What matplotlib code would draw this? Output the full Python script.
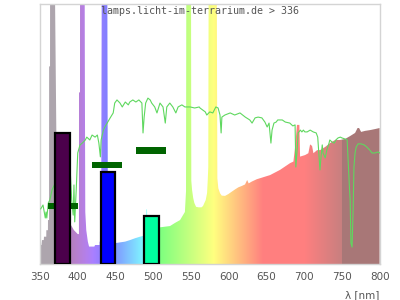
import numpy as np
import matplotlib
matplotlib.use("Agg")
import matplotlib.pyplot as plt
from matplotlib.patches import Polygon

# ---------------- data ----------------
title = "lamps.licht-im-terrarium.de > 336"
x_ticks = [350, 400, 450, 500, 550, 600, 650, 700, 750, 800]

# lamp emission spectrum (relative, axis top = 100; lines exceed the top)
spec_nm = [350, 352, 352.6, 355, 355.3, 358.3, 358.4, 360.5, 360.6, 362, 362.1, 363.3, 363.4,
           369, 372, 375, 380, 385, 390, 391, 395, 400, 401.6, 401.7, 403, 403.1, 409, 409.5,
           410, 411.3, 413.4, 415, 422, 423, 428.9, 429, 431, 432, 439, 440, 449, 462.7, 469.3,
           475.9, 482.5, 486.5, 490.5, 491, 491.8, 492.3, 508, 509, 522.3, 528.9, 535.6, 539.5,
           542, 543.5, 544, 550, 550.5, 551.5, 553, 554.5, 556.8, 560, 564, 566, 569.6, 571.4,
           572.3, 573, 573.6, 584, 585, 586.3, 588.6, 590.8, 595.2, 599.6, 604, 608.5, 612.9,
           617.3, 621.7, 624.5, 626.5, 630.6, 637.2, 643.9, 648.3, 654.9, 668.1, 681.4, 685.8,
           688, 690.5, 693.7, 694.6, 701.3, 705.6, 707.9, 710.5, 712.3, 717.2, 721.1, 727.8,
           734.4, 741, 747.6, 754.3, 760.9, 767.5, 770.8, 772.8, 775.5, 780.8, 787.4, 794, 800]
spec_val = [7.3, 7.3, 9.2, 9.2, 10.5, 10.5, 13, 13, 16.9, 16.9, 76, 76, 130,
            130, 40, 25, 18, 16, 16, 15, 13, 11.5, 11.5, 66, 66, 130, 130, 66,
            20, 13, 8.6, 6.7, 6.7, 7.3, 7.3, 8.6, 8.6, 130, 130, 10, 8, 8.6, 9.2,
            9.9, 10.5, 10.8, 11, 21, 21, 11.5, 14, 14.1, 14.6, 15.8, 16.9, 18.8,
            20, 28, 130, 130, 32, 28.5, 25.4, 23.5, 22, 21.8, 21.8, 22.3, 24.6, 27.3,
            32.3, 37.4, 130, 130, 33, 29.1, 27.2, 26.3, 26.2, 26.9, 27.8, 28.7, 29.5,
            30, 30.6, 32.3, 31, 31.7, 32.6, 33.2, 33.6, 34.2, 36.2, 38.8, 39.4,
            45, 53.5, 53.5, 41.3, 41.9, 42.6, 46, 45.4, 42.6, 43.8, 43.8, 45,
            46.5, 47.7, 47.7, 48.1, 49.2, 50.4, 52.3, 52.3, 50.8, 51.2, 51.5, 51.9, 52.3]

# reference (daylight) curve
ref_nm = [351, 354, 357, 358, 359, 361, 363, 366, 369, 379, 390, 392, 394, 395, 396, 398, 400,
          403, 406, 410, 412, 416, 419, 423, 426, 428, 430, 431, 434, 436, 439, 443, 447, 449,
          452, 456, 459, 463, 467, 469, 473, 477, 481, 485, 486.5, 488, 490, 493, 496, 498,
          502, 505, 509, 513, 516, 518, 522, 526, 530, 533, 538, 542, 549, 555, 561, 562, 569,
          571, 575, 579, 583, 586, 588.5, 590, 591, 595, 602, 608, 615, 622, 628, 631, 635,
          639, 644, 648, 651, 653.5, 655, 656, 657.5, 660, 663, 665, 671, 675, 681, 685, 688,
          689, 691, 692, 695, 697, 699, 701, 704, 708, 712, 716, 718, 720, 721, 722, 724, 725,
          728, 730, 733, 734, 737, 740, 742, 745, 748, 750, 754, 757, 760, 761, 762, 763.5,
          765, 766, 767.5, 769, 771.5, 775.5, 779.5, 783, 787, 790, 794, 798, 800]
ref_val = [21.2, 22.7, 17.7, 20, 17.7, 23.5, 24.6, 28.5, 30.4, 32.3, 36.2, 24.6, 18.8, 30.4,
           16.2, 28.5, 42.7, 45.8, 46.5, 47.7, 48.8, 47.7, 49.6, 48.8, 49.6, 46.5, 41.2, 47.7,
           51.5, 52.7, 54.2, 56.2, 58.1, 61.9, 63.1, 61.9, 60.4, 62.3, 61.2, 62.3, 63.1, 62.3,
           63.1, 61.9, 50.4, 56.5, 61.9, 63.8, 63.1, 61.9, 60.4, 58.1, 61.9, 60.4, 54.2, 60.4,
           61.9, 60.4, 58.1, 60.4, 61.2, 60.4, 60.4, 60, 60.4, 60, 58.5, 57.3, 58.5, 58.1, 60.4,
           60, 57.3, 50.4, 56.5, 57.3, 58.1, 57.3, 58.1, 56.5, 55.4, 54.2, 56.2, 56.5, 56.2,
           54.6, 52.7, 54.2, 49.6, 46.5, 51.5, 54.2, 54.6, 55.4, 55.4, 54.6, 54.2, 53.1, 53.5,
           37.3, 45, 50.4, 51.5, 50.8, 51.5, 50.8, 50.8, 51.5, 50.8, 50.4, 48.8, 40, 36.2, 40,
           45.8, 42.7, 40.8, 43.8, 46.5, 47.7, 46.9, 46.5, 47.7, 48.5, 48.8, 48.5, 48.1, 47.7,
           29.6, 24.6, 8.1, 6.5, 21.9, 37.3, 42.7, 45, 46.2, 46.2, 45.8, 45, 43.8, 42.7, 42.7,
           43.1, 42.7]

# band bars
band_center = [380, 440, 498]
band_width = [20, 19, 20]
band_value = [50.4, 35.4, 18.3]
band_colors = ["#4b004b", "#0000ff", "#00ffa0"]

# dark green level markers
mark_center = [380, 439, 497]
mark_value = [22.3, 38.0, 43.7]


# ---------------- helpers ----------------
def wl_color(w):
    if w < 380:
        return (0.68, 0.65, 0.68)
    if w >= 750:
        return (0.66, 0.47, 0.47)
    if w < 440:
        r, g, b = -(w - 440) / 60, 0, 1
    elif w < 490:
        r, g, b = 0, (w - 440) / 50, 1
    elif w < 510:
        r, g, b = 0, 1, -(w - 510) / 20
    elif w < 580:
        r, g, b = (w - 510) / 70, 1, 0
    elif w < 645:
        r, g, b = 1, -(w - 645) / 65, 0
    else:
        r, g, b = 1, 0, 0
    if w < 420:
        f = 0.3 + 0.7 * (w - 380) / 40
    elif w > 700:
        f = 0.3 + 0.7 * (780 - w) / 80
    else:
        f = 1.0
    return tuple(0.5 + 0.5 * c * f for c in (r, g, b))


# ---------------- figure ----------------
fig = plt.figure(figsize=(4, 3), dpi=100)
ax = fig.add_axes([0.1, 0.12, 0.849, 0.8667])
ax.set_xlim(350, 800)
ax.set_ylim(0, 100)

# colored spectrum: gradient image clipped to spectrum polygon
grid = np.arange(350, 800, 0.25)
img = np.array([[wl_color(w) for w in grid]])
im = ax.imshow(img, extent=[350, 800, 0, 100], aspect="auto",
               interpolation="nearest", origin="lower", zorder=1)
xy = np.column_stack([[spec_nm[0]] + spec_nm + [spec_nm[-1]],
                      [0] + spec_val + [0]])
poly = Polygon(xy, closed=True, facecolor="none", edgecolor="none",
               transform=ax.transData)
ax.add_patch(poly)
im.set_clip_path(poly)

ax.plot(ref_nm, ref_val, color="#5fd85f", lw=0.8, zorder=3)

for c, v in zip(mark_center, mark_value):
    ax.bar(c, 2.5, bottom=v - 1.25, width=40, color="#006400", lw=0, zorder=4)

ax.bar(band_center, band_value, width=band_width, color=band_colors,
       edgecolor="black", linewidth=1.6, zorder=5)

for s in ax.spines.values():
    s.set_color("#d4d4d4")
    s.set_linewidth(1)
ax.set_yticks([])
ax.set_xticks(x_ticks)
ax.tick_params(axis="x", length=0, labelsize=7.5, colors="#555555", pad=6)

fig.text(0.5, 1 - 11 / 300, title, ha="center", va="center",
         family="DejaVu Sans Mono", size=7.2, color="#555555")
fig.text(379 / 400, 1 - 295 / 300, "λ [nm]", ha="right", va="center",
         size=7.5, color="#555555")

fig.savefig("out.png", dpi=100)
